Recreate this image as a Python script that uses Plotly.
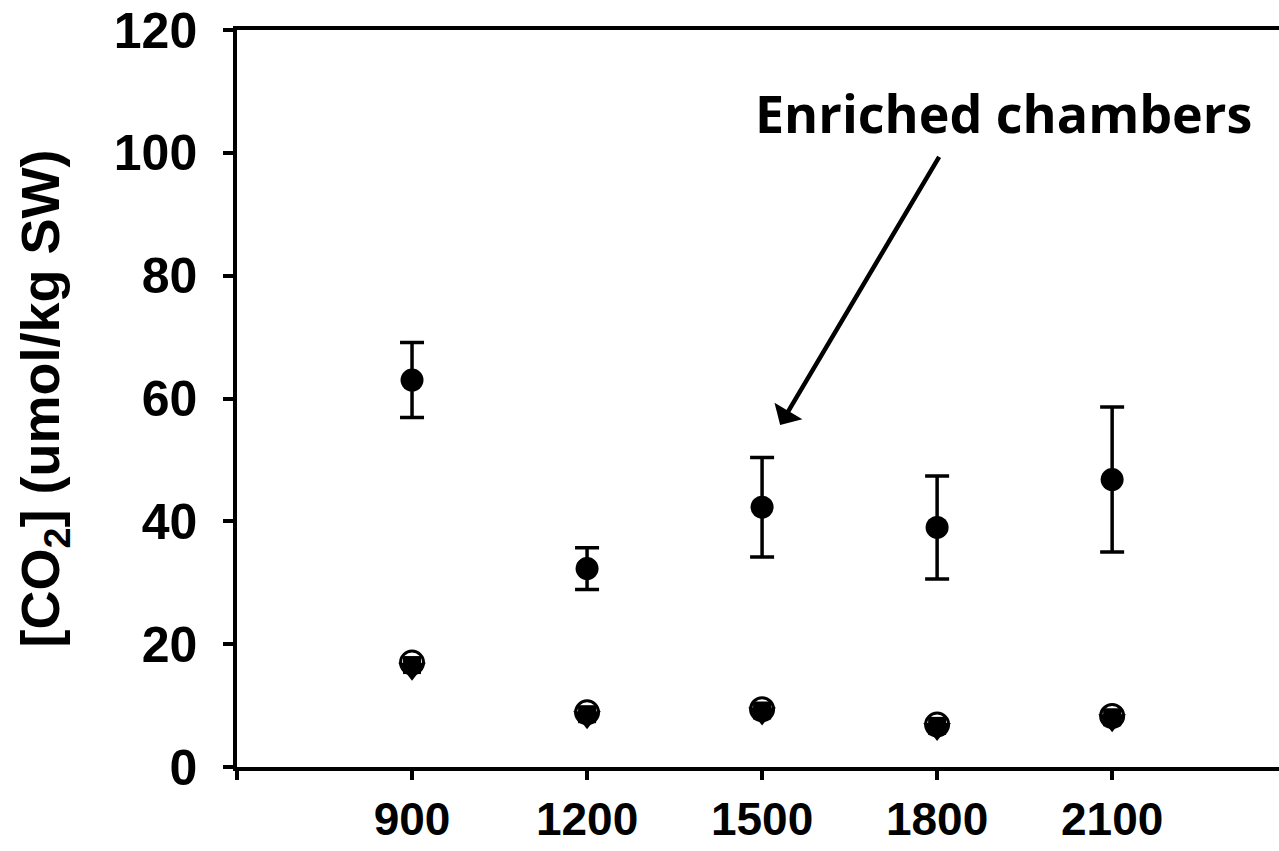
import plotly.graph_objects as go

depth = [900, 1200, 1500, 1800, 2100]
enriched = [63.0, 32.3, 42.3, 39.0, 46.8]
enriched_err = [6.1, 3.4, 8.1, 8.4, 11.8]
ambient_circle = [17.0, 8.9, 9.4, 6.9, 8.3]
ambient_square = [16.6, 8.6, 9.2, 6.7, 8.1]
ambient_tri = [16.0, 8.1, 8.7, 6.2, 7.6]

x_ticks = [600, 900, 1200, 1500, 1800, 2100, 2400]
x_ticktext = ["", "900", "1200", "1500", "1800", "2100", ""]
y_ticks = [0, 20, 40, 60, 80, 100, 120]

fig = go.Figure()
fig.add_trace(go.Scatter(x=depth, y=ambient_tri, mode="markers",
                         marker=dict(symbol="triangle-down", size=24, color="black"),
                         showlegend=False))
fig.add_trace(go.Scatter(x=depth, y=ambient_square, mode="markers",
                         marker=dict(symbol="square", size=18, color="black"),
                         showlegend=False))
fig.add_trace(go.Scatter(x=depth, y=ambient_circle, mode="markers",
                         marker=dict(symbol="circle-open", size=23, color="black",
                                     line=dict(width=3, color="black")),
                         showlegend=False))
fig.add_trace(go.Scatter(x=depth, y=enriched, mode="markers",
                         marker=dict(symbol="circle", size=23, color="black"),
                         error_y=dict(type="data", array=enriched_err, visible=True,
                                      color="black", thickness=3.5, width=12),
                         showlegend=False))

fig.add_annotation(x=1531, y=55.7, ax=1805, ay=99.6, xref="x", yref="y",
                   axref="x", ayref="y", showarrow=True, arrowhead=1,
                   arrowsize=1.2, arrowwidth=4.5, arrowcolor="black", text="",
                   standoff=0, startstandoff=0)
fig.add_annotation(x=1913, y=106.6, xref="x", yref="y",
                   text="<b>Enriched chambers</b>", showarrow=False,
                   font=dict(family="Open Sans", size=52, color="black"),
                   xanchor="center", yanchor="middle")

axis_font = dict(family="Liberation Sans", size=50, color="black", weight="bold")
xaxis_font = dict(family="Liberation Sans", size=46, color="black", weight="bold")
fig.update_xaxes(range=[600, 2386], tickvals=x_ticks, ticktext=x_ticktext,
                 showline=True, linewidth=3.5, linecolor="black", mirror=True,
                 ticks="outside", ticklen=9, tickwidth=3.5, tickcolor="black",
                 showgrid=False, zeroline=False, tickfont=xaxis_font,
                 ticklabelstandoff=0, automargin=False)
fig.update_yaxes(range=[0, 120], tickvals=y_ticks,
                 showline=True, linewidth=3.5, linecolor="black", mirror=False,
                 ticks="outside", ticklen=10, tickwidth=3.5, tickcolor="black",
                 showgrid=False, zeroline=False, tickfont=axis_font,
                 ticklabelstandoff=16, automargin=False,
                 title=dict(text="<b>[CO<sub>2</sub>] (umol/kg SW)</b>",
                            font=dict(family="Liberation Sans", size=54, color="black"),
                            standoff=38))
fig.update_layout(width=1279, height=851, margin=dict(l=237, r=0, t=30, b=84),
                  plot_bgcolor="white", paper_bgcolor="white",
                  font=dict(family="Liberation Sans", color="black"))
fig.write_html("out.html")
